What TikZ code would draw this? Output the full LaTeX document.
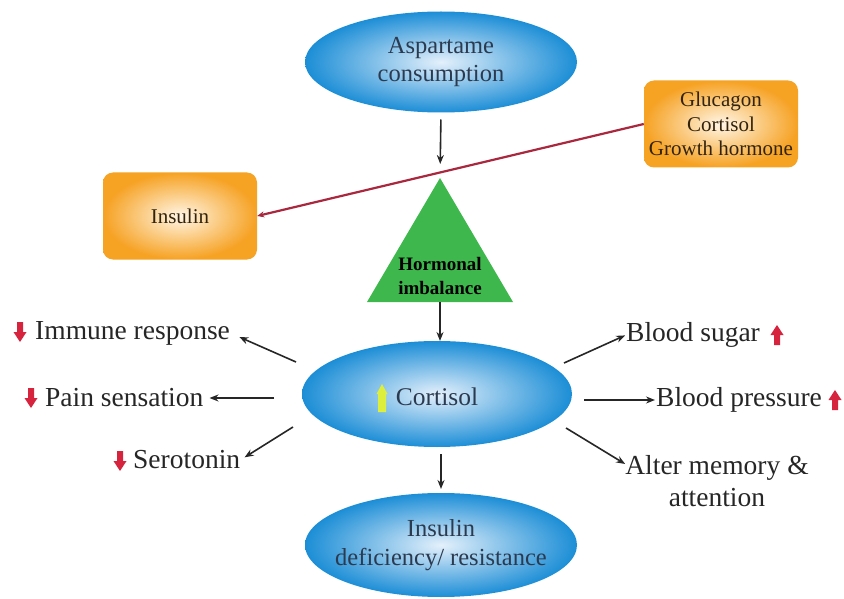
\documentclass[tikz,border=0pt]{standalone}
\usepackage{fontspec}
\setmainfont{Liberation Serif}
\newfontfamily\tnr{Liberation Serif}
\usetikzlibrary{shapes.geometric,arrows.meta,calc}

\definecolor{elEdge}{RGB}{28,142,214}
\definecolor{elCenter}{RGB}{228,240,251}
\definecolor{boxEdge}{RGB}{246,162,35}
\definecolor{boxCenter}{RGB}{255,246,230}
\definecolor{triGreen}{RGB}{62,184,76}
\definecolor{redLine}{RGB}{170,40,62}
\definecolor{iconRed}{RGB}{214,36,62}
\definecolor{iconYellow}{RGB}{222,238,60}
\definecolor{txtGray}{RGB}{38,38,38}
\definecolor{elText}{RGB}{44,58,80}
\definecolor{boxText}{RGB}{50,35,15}

\tikzset{
  blueell/.style={ellipse, inner sep=0pt, outer sep=0pt, draw=none,
    inner color=elCenter, outer color=elEdge},
  elltext/.style={text=elText, align=center, inner sep=0pt,
    font=\tnr\fontsize{24.5}{28.5}\selectfont},
  orangebox/.style={rectangle, rounded corners=10pt, draw=none,
    inner color=boxCenter, outer color=boxEdge, text=boxText, align=center,
    font=\tnr\fontsize{21}{24.5}\selectfont, minimum width=154pt, minimum height=87pt},
  conn/.style={draw=txtGray, line width=1.6pt, -{Stealth[length=9pt,width=7pt]}},
  redconn/.style={draw=redLine, line width=2.2pt, -{Stealth[length=7pt,width=6pt]}},
  effect/.style={inner sep=0pt, text=txtGray, align=center,
    font=\tnr\fontsize{27.5}{32}\selectfont},
  dnarrow/.pic={\fill[iconRed] (-3,-10) -- (3,-10) -- (3,0) -- (6.5,0)
     -- (0,10) -- (-6.5,0) -- (-3,0) -- cycle;},
  uparrow/.pic={\fill[iconRed] (-3,10) -- (3,10) -- (3,0) -- (6.5,0)
     -- (0,-10) -- (-6.5,0) -- (-3,0) -- cycle;},
  yelarrow/.pic={\fill[iconYellow] (-4,14) -- (4,14) -- (4,-4) -- (5.5,-4)
     -- (0,-14) -- (-5.5,-4) -- (-4,-4) -- cycle;}
}

\begin{document}
\begin{tikzpicture}[x=1pt,y=-1pt]
\useasboundingbox (0,0) rectangle (844,599);

% main chain
\node[blueell, minimum width=272pt, minimum height=101pt] (asp) at (441,62) {};
\node[elltext] (asptext) at (asp.center) {Aspartame\\consumption};

\coordinate (triTop) at (440,178);
\coordinate (triL) at (367,302);
\coordinate (triR) at (513,302);
\coordinate (triBot) at (440,302);
\fill[triGreen] (triTop) -- (triR) -- (triL) -- cycle;
\node[inner sep=0pt, align=center, text=black,
  font=\tnr\bfseries\fontsize{19}{24}\selectfont] (horm) at (440,276) {Hormonal\\imbalance};

\node[blueell, minimum width=270pt, minimum height=106pt] (cort) at (437,394) {};
\node[elltext, font=\tnr\fontsize{25.5}{28}\selectfont] (corttext) at (437,397) {Cortisol};
\pic at (382,398) {yelarrow};

\node[blueell, minimum width=272pt, minimum height=104pt] (bot) at (441,545) {};
\node[elltext] (bottext) at (bot.center) {Insulin\\deficiency/ resistance};

% hormone boxes
\node[orangebox] (gluc) at (721,124) {Glucagon\\Cortisol\\Growth hormone};
\node[orangebox] (ins) at (180,216) {Insulin};

% chain arrows
\draw[conn, shorten <=7pt, shorten >=14pt] (asp.south) -- (triTop);
\draw[conn] (triBot) -- (triBot |- cort.north);
\draw[conn, shorten <=7pt, shorten >=4pt] (bot.north |- cort.south) -- (bot.north);
\draw[redconn] (gluc.west) -- (ins.east);

% left effects
\node[effect, anchor=west] (imm) at (35,333) {Immune response};
\node[effect, anchor=west] (pain) at (45,398) {Pain sensation};
\node[effect, anchor=west] (sero) at (133,460) {Serotonin};
\pic at (20,332) {dnarrow};
\pic at (31,398) {dnarrow};
\pic at (120,461) {dnarrow};

\coordinate (cImm) at (296,362);
\coordinate (cPain) at (274,398);
\coordinate (cSero) at (293,427);
\draw[conn, shorten >=10pt] (cImm) -- (imm.east);
\draw[conn, shorten >=6pt] (cPain) -- (pain.east);
\draw[conn, shorten >=5pt] (cSero) -- (sero.east);

% right effects
\node[effect, anchor=west] (sugar) at (626,335) {Blood sugar};
\node[effect, anchor=west] (press) at (656,400) {Blood pressure};
\node[effect] (mem) at (717,481) {Alter memory \&\\attention};
\pic at (777,335) {uparrow};
\pic at (835,400) {uparrow};

\coordinate (cSugar) at (564,363);
\coordinate (cPress) at (584,400);
\coordinate (cMem) at (566,428);
\draw[conn, shorten >=1pt] (cSugar) -- (sugar.west);
\draw[conn, shorten >=1pt] (cPress) -- (press.west);
\draw[conn] (cMem) -- ($(mem.west)+(0,-17)$);
\end{tikzpicture}
\end{document}
